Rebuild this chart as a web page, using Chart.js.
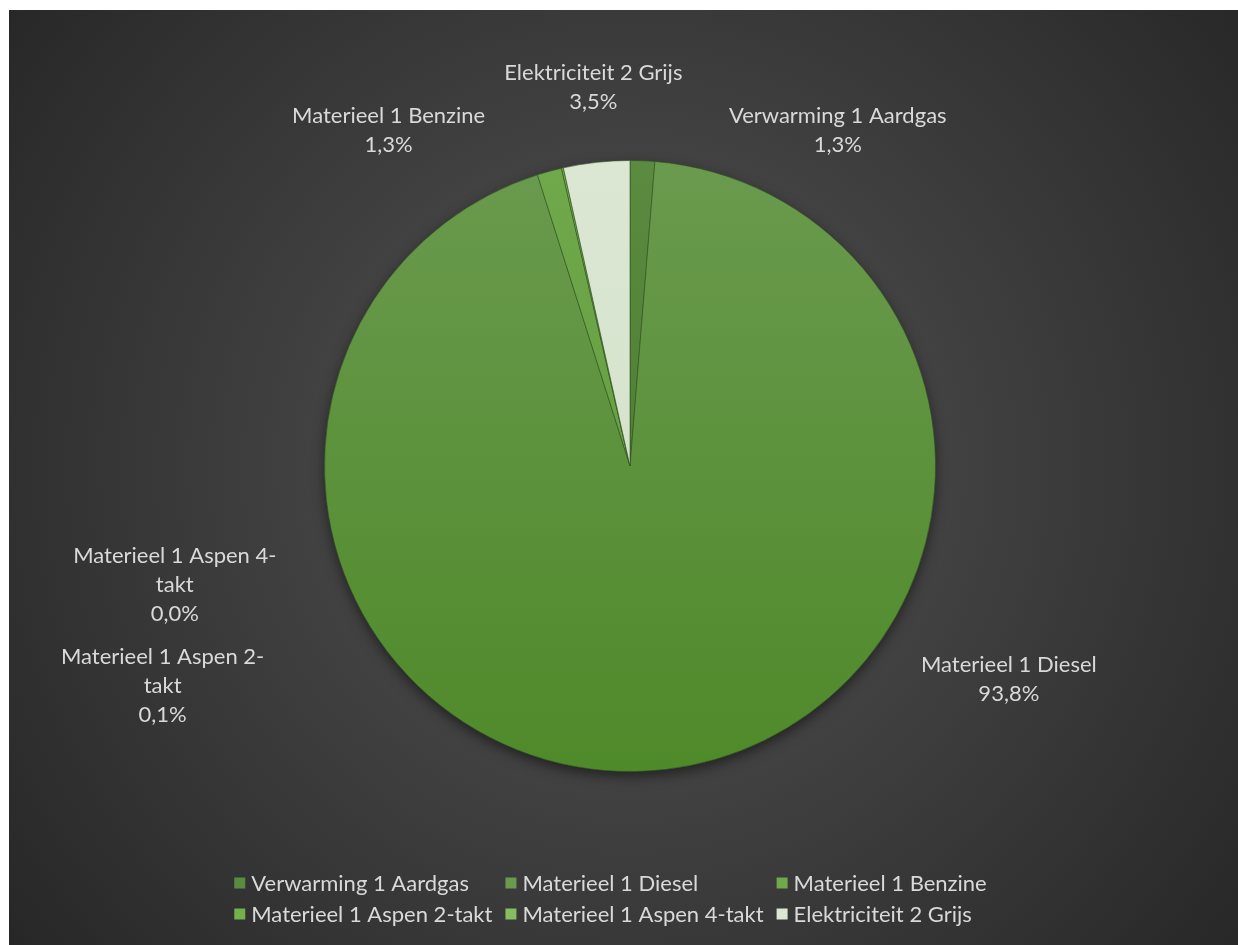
<!DOCTYPE html>
<html>
<head>
<meta charset="utf-8">
<script src="https://cdn.jsdelivr.net/npm/chart.js@4"></script>
<style>
  html, body { margin: 0; padding: 0; background: #fff; }
  #wrap { position: absolute; left: 9px; top: 10px; width: 1229px; height: 935px; }
</style>
</head>
<body>
<div id="wrap"><canvas id="chart"></canvas></div>
<script>
  const categories = [
    'Verwarming 1 Aardgas',
    'Materieel 1 Diesel',
    'Materieel 1 Benzine',
    'Materieel 1 Aspen 2-takt',
    'Materieel 1 Aspen 4-takt',
    'Elektriciteit 2 Grijs'
  ];
  const shares = [1.3, 93.8, 1.3, 0.1, 0.0, 3.5];

  // slice colours: lighter at the top of the pie, darker at the bottom
  const topColors = ['#5b8b41', '#6a9a4e', '#70a84c', '#74b04c', '#86bd63', '#dbe7d3'];
  const bottomColors = ['#44752a', '#4f8a2a', '#5d9a36', '#66a53c', '#7cb556', '#d0dfc6'];

  // where each data label sits, as offsets from the pie centre in radii
  const labelOffsets = [
    [0.68, -1.10],
    [1.24, 0.70],
    [-0.79, -1.10],
    [-1.53, 0.72],
    [-1.49, 0.39],
    [-0.12, -1.24]
  ];

  const FONT = 'Lato, "Noto Sans", sans-serif';
  const FONT_SIZE = 22;
  const TEXT_COLOR = '#d9d9d9';
  const LINE_H = 29;
  const LABEL_MAX_W = 235;

  function pct(v) {
    const total = shares.reduce((a, b) => a + b, 0);
    return (v / total * 100).toFixed(1).replace('.', ',') + '%';
  }

  // break a label after a space or hyphen when it is too wide
  function wrap(ctx, text, maxW) {
    if (ctx.measureText(text).width <= maxW) return [text];
    let best = -1;
    for (let i = 0; i < text.length; i++) {
      const ch = text[i];
      if (ch === ' ' || ch === '-') {
        const part = ch === '-' ? text.slice(0, i + 1) : text.slice(0, i);
        if (ctx.measureText(part).width <= maxW) best = i;
      }
    }
    if (best < 0) return [text];
    const first = text[best] === '-' ? text.slice(0, best + 1) : text.slice(0, best);
    const rest = text.slice(best + 1).trim();
    return [first].concat(wrap(ctx, rest, maxW));
  }

  const backgroundPlugin = {
    id: 'darkBackground',
    beforeDraw(chart) {
      const { ctx, width, height } = chart;
      const arc = chart.getDatasetMeta(0).data[0];
      const cx = arc ? arc.x : width / 2;
      const cy = arc ? arc.y : height / 2;
      const g = ctx.createRadialGradient(cx, cy, 0, cx, cy, 800);
      g.addColorStop(0, '#565656');
      g.addColorStop(0.45, '#3f3f3f');
      g.addColorStop(1, '#262626');
      ctx.save();
      ctx.fillStyle = g;
      ctx.fillRect(0, 0, width, height);
      ctx.restore();
    },
    beforeDatasetsDraw(chart) {
      // soft shadow under the pie
      const arc = chart.getDatasetMeta(0).data[0];
      if (!arc) return;
      const { ctx } = chart;
      ctx.save();
      ctx.shadowColor = 'rgba(0,0,0,0.55)';
      ctx.shadowBlur = 14;
      ctx.shadowOffsetY = 5;
      ctx.fillStyle = '#4f8a2a';
      ctx.beginPath();
      ctx.arc(arc.x, arc.y, arc.outerRadius - 1, 0, Math.PI * 2);
      ctx.fill();
      ctx.restore();
    }
  };

  const labelPlugin = {
    id: 'outsideLabels',
    afterDatasetsDraw(chart) {
      const { ctx } = chart;
      const arcs = chart.getDatasetMeta(0).data;
      ctx.save();
      ctx.font = FONT_SIZE + 'px ' + FONT;
      ctx.fillStyle = TEXT_COLOR;
      ctx.textAlign = 'center';
      ctx.textBaseline = 'middle';
      arcs.forEach((arc, i) => {
        const r = arc.outerRadius;
        const lines = wrap(ctx, categories[i], LABEL_MAX_W).concat([pct(shares[i])]);
        const x = arc.x + labelOffsets[i][0] * r;
        const y0 = arc.y + labelOffsets[i][1] * r - (lines.length - 1) * LINE_H / 2;
        lines.forEach((line, j) => ctx.fillText(line, x, y0 + j * LINE_H));
      });
      ctx.restore();
    }
  };

  // Excel-style legend: three columns, two rows
  const gridLegendPlugin = {
    id: 'gridLegend',
    afterDraw(chart) {
      const { ctx, width, chartArea } = chart;
      const cols = 3, box = 11, gap = 6, colGap = 13;
      const rowY = [chartArea.bottom + 111, chartArea.bottom + 142];
      ctx.save();
      ctx.font = FONT_SIZE + 'px ' + FONT;
      ctx.textBaseline = 'middle';
      ctx.textAlign = 'left';
      const colW = [];
      categories.forEach((c, i) => {
        const w = box + gap + ctx.measureText(c).width + colGap;
        const k = i % cols;
        colW[k] = Math.max(colW[k] || 0, w);
      });
      const total = colW.reduce((a, b) => a + b, 0) - colGap;
      const startX = (width - total) / 2 - 13;
      categories.forEach((c, i) => {
        const k = i % cols;
        const row = Math.floor(i / cols);
        let x = startX;
        for (let j = 0; j < k; j++) x += colW[j];
        const y = rowY[row];
        ctx.fillStyle = topColors[i];
        ctx.fillRect(x, y - box / 2, box, box);
        ctx.fillStyle = TEXT_COLOR;
        ctx.fillText(c, x + box + gap, y + 1);
      });
      ctx.restore();
    }
  };

  const ctx = document.getElementById('chart');
  new Chart(ctx, {
    type: 'pie',
    data: {
      labels: categories,
      datasets: [{
        data: shares,
        backgroundColor: function (context) {
          const chart = context.chart;
          const area = chart.chartArea;
          if (!area) return topColors[context.dataIndex];
          const g = chart.ctx.createLinearGradient(0, area.top, 0, area.bottom);
          g.addColorStop(0, topColors[context.dataIndex]);
          g.addColorStop(1, bottomColors[context.dataIndex]);
          return g;
        },
        borderColor: 'rgba(50,80,35,0.6)',
        borderWidth: 1
      }]
    },
    options: {
      responsive: true,
      maintainAspectRatio: false,
      animation: false,
      layout: {
        padding: { top: 150, bottom: 173, left: 13, right: 0 }
      },
      plugins: {
        legend: { display: false },
        tooltip: { enabled: false }
      }
    },
    plugins: [backgroundPlugin, labelPlugin, gridLegendPlugin]
  });
</script>
</body>
</html>
